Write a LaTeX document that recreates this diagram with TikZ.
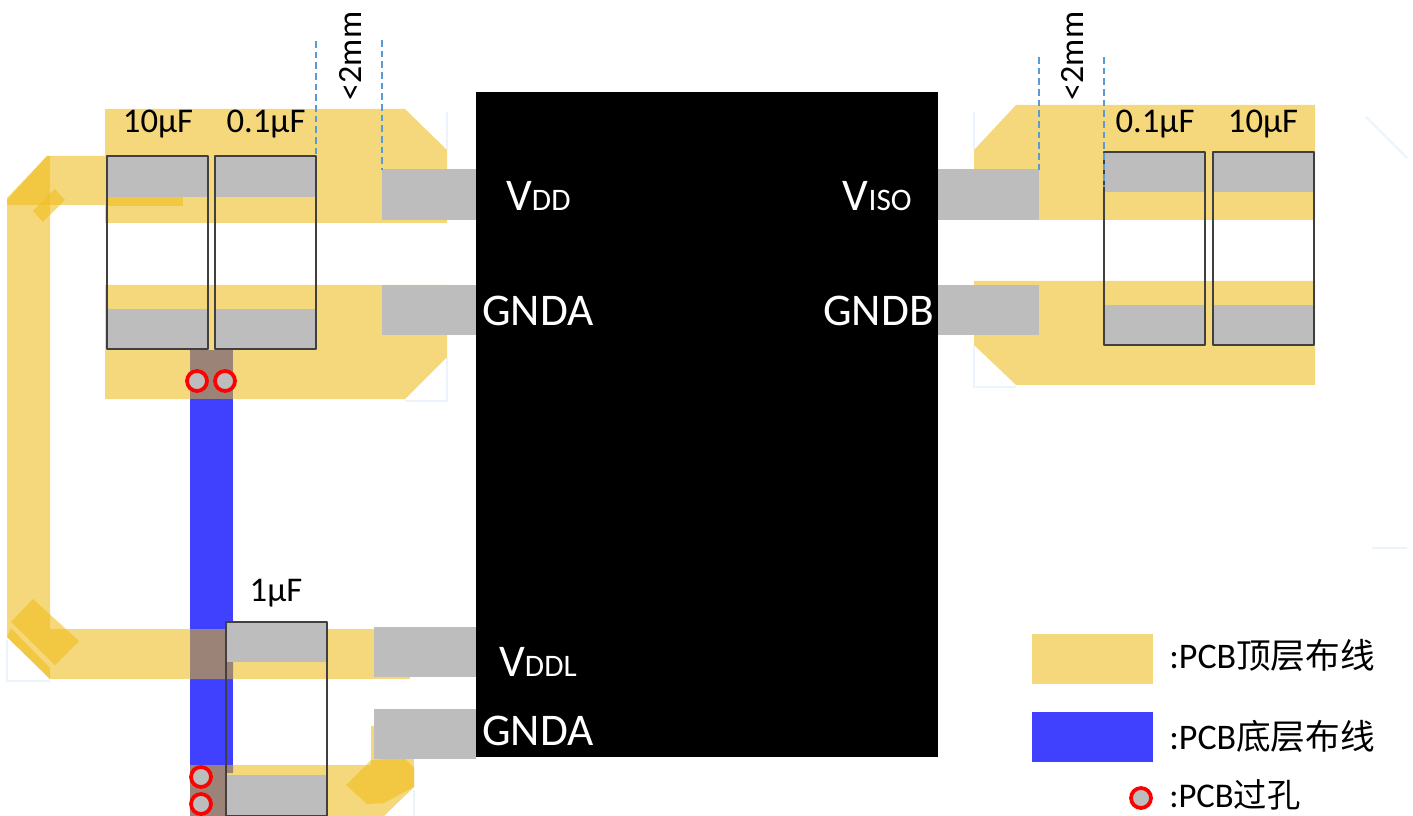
\documentclass[tikz,border=0pt]{standalone}
\usepackage{fontspec}
\setmainfont{Carlito}
\newfontfamily\cjk{Noto Sans CJK SC}
\definecolor{top}{HTML}{F5D87C}
\definecolor{topdark}{HTML}{F0BE1E}
\definecolor{bot}{HTML}{4040FF}
\definecolor{brown}{HTML}{9C8378}
\definecolor{pad}{HTML}{BDBDBD}
\definecolor{dash}{HTML}{5B9BD5}
\definecolor{ghost}{HTML}{EDF3FA}
\tikzset{
  x=0.75pt,y=-0.75pt,
  toplayer/.style={fill=top,draw=none},
  overlap/.style={fill=topdark,fill opacity=0.6,draw=none},
  botlayer/.style={fill=bot,draw=none},
  crossing/.style={fill=brown,draw=none},
  padblock/.style={fill=pad,draw=none},
  capbox/.style={draw=black!75,line width=1.4pt,line join=round},
  gap/.style={draw=dash,line width=1pt,dash pattern=on 5pt off 3pt},
  viahole/.style={circle,fill=pad,draw=red,line width=2.8pt,minimum size=15pt,inner sep=0pt},
  faint/.style={draw=ghost,line width=1.6pt},
  chip/.style={text=white,font=\fontsize{34}{36}\selectfont,inner sep=0pt},
  value/.style={text=black,font=\fontsize{26}{28}\selectfont,inner sep=0pt},
  span/.style={text=black,font=\fontsize{25.5}{28}\selectfont,inner sep=0pt,rotate=90},
  legendtext/.style={text=black,font=\fontsize{27}{28}\selectfont,inner sep=0pt,anchor=west}
}
\newcommand{\smalltxt}[1]{{\fontsize{23.5}{26}\selectfont #1}}
\begin{document}
\begin{tikzpicture}
\useasboundingbox (0,0) rectangle (1413,816);
% faint shadows
\draw[faint] (447,112)--(447,150);
\draw[faint] (447,357)--(447,401)--(405,401);
\draw[faint] (974,112)--(974,150);
\draw[faint] (974,345)--(974,387)--(1016,387);
\draw[faint] (1366,117)--(1407,158);
\draw[faint] (1372,548)--(1407,548);
\draw[faint] (7,640)--(7,681)--(50,681);
\draw[faint] (414,790)--(414,816);
% top layer, left
\fill[toplayer] (105,109)--(405,109)--(447,150)--(447,223)--(105,223)--cycle;
\fill[toplayer] (105,285)--(447,285)--(447,357)--(405,399)--(105,399)--cycle;
\fill[toplayer] (7,205)--(7,200)--(47,156)--(107,156)--(107,205)--(50,205)--(50,679)--(7,637)--cycle;
\fill[toplayer] (50,629)--(410,629)--(410,679)--(50,679)--cycle;
\fill[toplayer] (190,765)--(414,765)--(414,787)--(384,816)--(190,816)--cycle;
\fill[toplayer] (371,726)--(414,726)--(414,787)--(371,787)--cycle;
% overlaps of top layer
\fill[overlap] (7,205)--(7,198)--(47,156)--(50,156)--(50,205)--cycle;
\fill[overlap] (107,197)--(183,197)--(183,206)--(107,206)--cycle;
\fill[overlap] (55,189)--(65,200)--(43,222)--(33,211)--cycle;
\fill[overlap] (33,599)--(79,641)--(55,665)--(11,622)--cycle;
\fill[overlap] (11,628)--(50,668)--(50,679)--(7,637)--cycle;
\fill[overlap] (404,758)--(414,768)--(414,787)--(384,803)--(367,804)--(346,785)--(371,760)--cycle;
% bottom layer
\fill[botlayer] (190,399)--(233,399)--(233,629)--(190,629)--cycle;
\fill[botlayer] (190,679)--(233,679)--(233,765)--(190,765)--cycle;
\fill[crossing] (190,350)--(233,350)--(233,399)--(190,399)--cycle;
\fill[crossing] (190,629)--(226,629)--(226,662)--(233,662)--(233,679)--(190,679)--cycle;
\fill[crossing] (190,765)--(233,765)--(233,773)--(226,773)--(226,816)--(190,816)--cycle;
% capacitors, left
\fill[padblock] (107,156) rectangle (208,197);
\fill[padblock] (107,309) rectangle (208,349);
\fill[padblock] (215,156) rectangle (316,197);
\fill[padblock] (215,309) rectangle (316,349);
\draw[capbox] (107,156) rectangle (208,349);
\draw[capbox] (215,156) rectangle (316,349);
% 1uF
\fill[padblock] (226,622) rectangle (327,662);
\fill[padblock] (226,775) rectangle (327,816);
\draw[capbox] (226,622) rectangle (327,816);
% top layer, right
\fill[toplayer] (974,150)--(1016,105)--(1315,105)--(1315,220)--(974,220)--cycle;
\fill[toplayer] (974,281)--(1315,281)--(1315,385)--(1016,385)--(974,345)--cycle;
\fill[padblock] (1104,152) rectangle (1205,192);
\fill[padblock] (1104,305) rectangle (1205,345);
\fill[padblock] (1213,152) rectangle (1314,192);
\fill[padblock] (1213,305) rectangle (1314,345);
\draw[capbox] (1104,152) rectangle (1205,345);
\draw[capbox] (1213,152) rectangle (1314,345);
% pins
\fill[padblock] (382,169) rectangle (476,220);
\fill[padblock] (382,285) rectangle (476,335);
\fill[padblock] (374,627) rectangle (476,677);
\fill[padblock] (374,709) rectangle (476,759);
\fill[padblock] (938,169) rectangle (1039,220);
\fill[padblock] (938,285) rectangle (1039,335);
% chip
\fill[black] (476,92) rectangle (938,757);
% dashed
\draw[gap] (316,41)--(316,156);
\draw[gap] (382,40)--(382,170);
\draw[gap] (1039,57)--(1039,172);
\draw[gap] (1104,57)--(1104,187);
% vias
\node[viahole] (va) at (197,381) {};
\node[viahole] (vb) at (225,381) {};
\node[viahole] (vc) at (201,777) {};
\node[viahole] (vd) at (201,804) {};
% chip labels
\node[chip,anchor=west] (lvdd) at (506,196) {V\smalltxt{DD}};
\node[chip,anchor=west] (lgnda) at (482,311) {GNDA};
\node[chip,anchor=west] (lvddl) at (499,662) {V\smalltxt{DDL}};
\node[chip,anchor=west] (lgndb) at (482,731) {GNDA};
\node[chip,anchor=east] (lviso) at (912,196) {V\smalltxt{ISO}};
\node[chip,anchor=east] (lgnd) at (934,311) {GNDB};
% values
\node[value] (c1) at (158,124) {10μF};
\node[value] (c2) at (266,124) {0.1μF};
\node[value] (c3) at (1155,124) {0.1μF};
\node[value] (c4) at (1263,124) {10μF};
\node[value] (c5) at (276,593) {1μF};
\node[span] (s1) at (350,56) {<2mm};
\node[span] (s2) at (1072,56) {<2mm};
% legend
\fill[toplayer] (1032,634) rectangle (1153,684);
\fill[botlayer] (1032,712) rectangle (1153,762);
\node[viahole] (lv) at (1141,798) {};
\node[legendtext] (t1) at (1169,655) {:PCB{\cjk\fontsize{26}{28}\selectfont 顶层布线}};
\node[legendtext] (t2) at (1169,736) {:PCB{\cjk\fontsize{26}{28}\selectfont 底层布线}};
\node[legendtext,font=\fontsize{26}{28}\selectfont] (t3) at (1169,795) {:PCB{\cjk\fontsize{25}{26}\selectfont 过孔}};
\end{tikzpicture}
\end{document}
